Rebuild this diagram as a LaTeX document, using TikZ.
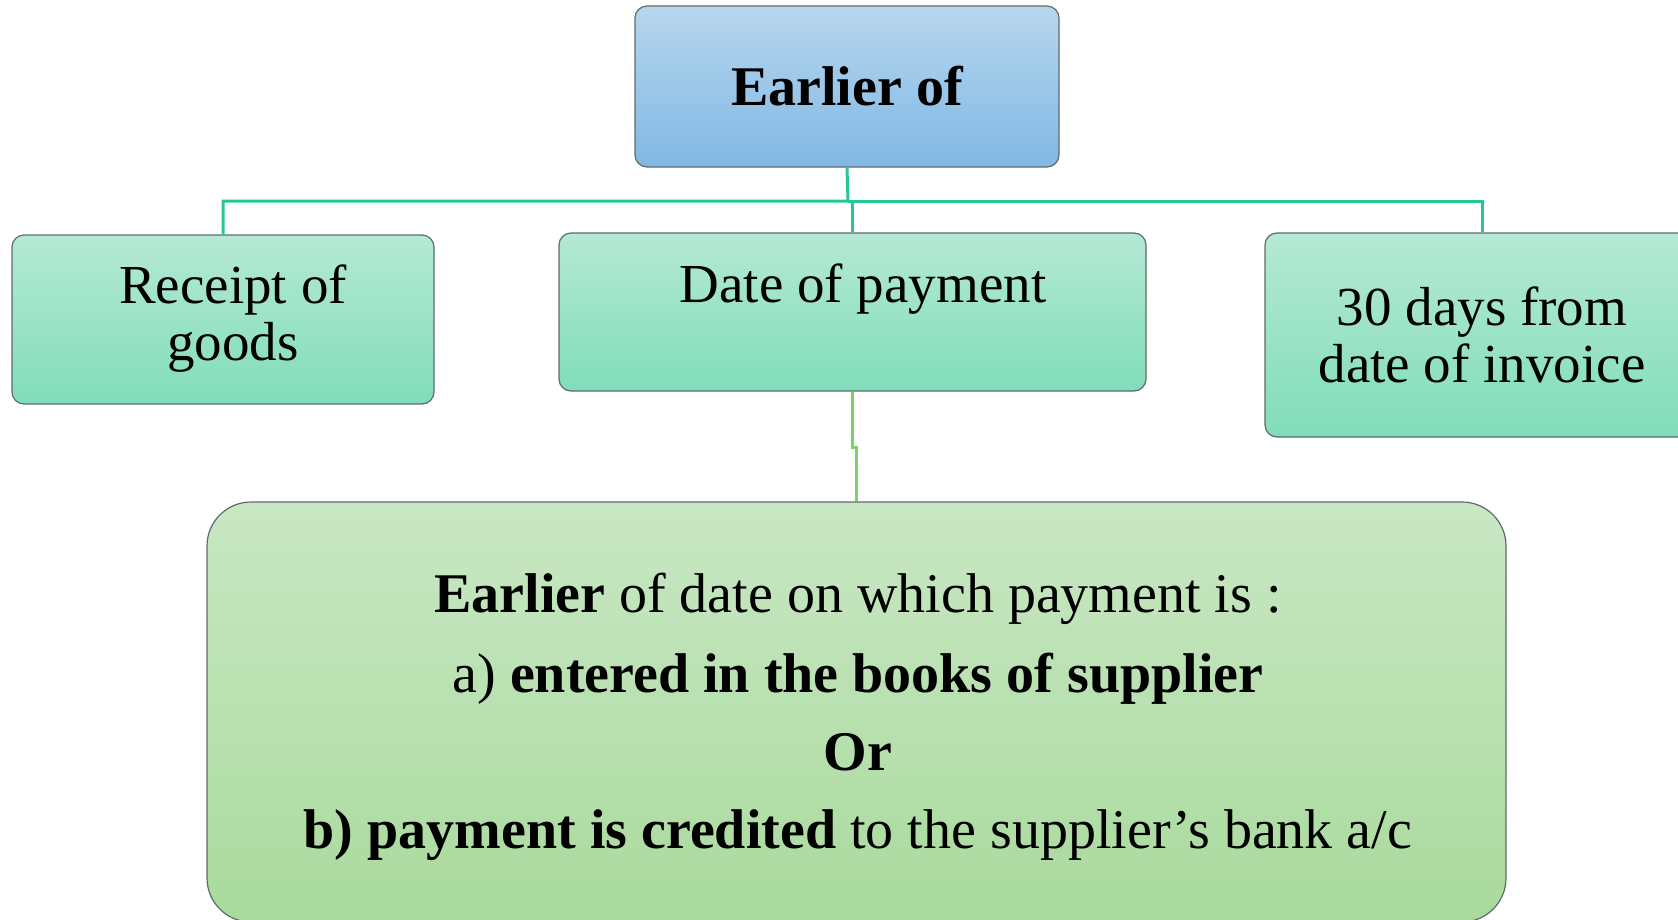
\documentclass[tikz,border=0pt]{standalone}
\usepackage{fontspec}
\setmainfont{Liberation Serif}
\usetikzlibrary{shadings}
\definecolor{bluetop}{HTML}{B8D6EE}
\definecolor{bluebot}{HTML}{80B8E4}
\definecolor{tealtop}{HTML}{B5E9D5}
\definecolor{tealbot}{HTML}{80DDB9}
\definecolor{greentop}{HTML}{C9E7C4}
\definecolor{greenbot}{HTML}{A9DA9C}
\definecolor{edgegray}{HTML}{5F6B68}
\definecolor{connteal}{HTML}{22C997}
\definecolor{conngreen}{HTML}{7DD06A}
\tikzset{
  boxbase/.style={draw=edgegray, line width=1.2pt, rectangle, align=center, inner sep=0pt},
  bluebox/.style={boxbase, rounded corners=12pt, top color=bluetop, bottom color=bluebot},
  tealbox/.style={boxbase, rounded corners=12pt, top color=tealtop, bottom color=tealbot},
  bigbox/.style={boxbase, rounded corners=44pt, top color=greentop, bottom color=greenbot},
  connA/.style={draw=connteal, line width=3pt},
  connB/.style={draw=conngreen, line width=3pt},
  mid/.style={font=\fontsize{55}{57}\selectfont, align=center, inner sep=0pt},
  big/.style={font=\fontsize{56}{78}\selectfont, align=center},
}
\begin{document}
\begin{tikzpicture}[x=1pt,y=-1pt]
\useasboundingbox (0,0) rectangle (1678,919);
\node[bluebox, minimum width=424pt, minimum height=161pt, font=\fontsize{56}{60}\selectfont\bfseries] (top) at (847,86.5) {Earlier of};
\node[tealbox, minimum width=422pt, minimum height=169pt] (rec) at (223,319.5) {};
\node[mid] (rectext) at (233,319) {Receipt of\\goods};
\node[tealbox, minimum width=587pt, minimum height=158pt] (dop) at (852.5,312) {};
\node[mid, anchor=base] (doptext) at (863,302) {Date of payment};
\node[tealbox, minimum width=434pt, minimum height=204pt, mid] (inv) at (1482,335) {30 days from\\date of invoice};
\node[bigbox, minimum width=1299pt, minimum height=420pt] (bx) at (856.5,712) {};
\node[big, anchor=base] (l1) at (858,612) {\textbf{Earlier} of date on which payment is :};
\node[big, anchor=base] (l2) at (858,692) {a) \textbf{entered in the books of supplier}};
\node[big, anchor=base] (l3) at (858,770) {\textbf{Or}};
\node[big, anchor=base] (l4) at (858,848) {\textbf{b) payment is credited} to the supplier’s bank a/c};
\coordinate (j) at (848,201);
\draw[connA] (top.south) -- (j) -| (rec.north);
\draw[connA] (j) -| (dop.north);
\draw[connA] (j) -| (inv.north);
\draw[connB] (dop.south) -- ++(0,56) -| (bx.north);
\end{tikzpicture}
\end{document}
